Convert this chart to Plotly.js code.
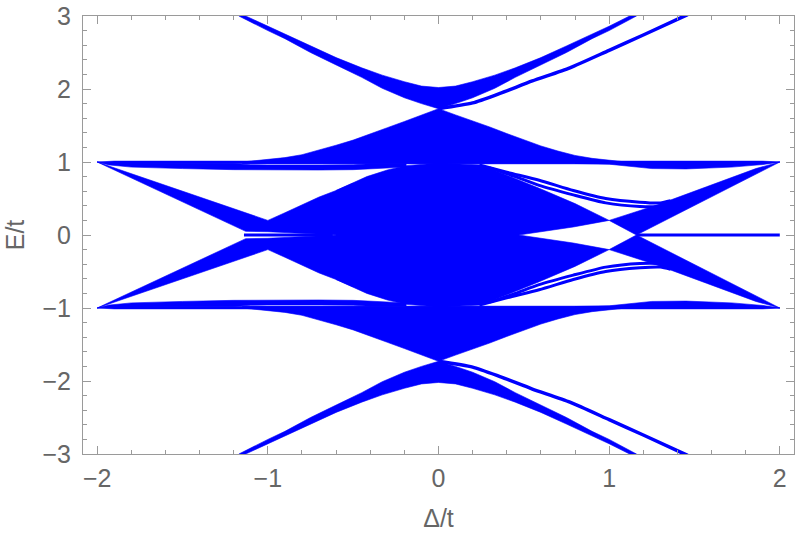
<!DOCTYPE html>
<html>
<head>
<meta charset="utf-8">
<script src="https://cdn.plot.ly/plotly-3.0.1.min.js"></script>
<style>html,body{margin:0;padding:0;background:#fff;}#chart{width:797px;height:538px;}</style>
</head>
<body>
<div id="chart"></div>
<script>
// ---------- data (upper half, E >= 0); the spectrum is symmetric in E ----------
// top band (near E = 2)
const topUpperD = [-1.13, -1.0, -0.9, -0.75, -0.6, -0.45, -0.33, -0.2, -0.1, 0, 0.1, 0.2, 0.33, 0.45, 0.6, 0.75, 0.9, 1.0, 1.12];
const topUpperE = [3.0, 2.86, 2.75, 2.59, 2.43, 2.29, 2.19, 2.1, 2.04, 2.02, 2.04, 2.1, 2.19, 2.29, 2.43, 2.59, 2.75, 2.86, 3.0];
const topLowerD = [-1.17, -1.0, -0.9, -0.75, -0.6, -0.45, -0.33, -0.2, -0.1, 0, 0.1, 0.2, 0.33, 0.45, 0.6, 0.75, 0.9, 1.0, 1.16];
const topLowerE = [3.0, 2.8, 2.69, 2.5, 2.33, 2.16, 2.01, 1.88, 1.8, 1.73, 1.8, 1.88, 2.01, 2.16, 2.33, 2.5, 2.69, 2.8, 3.0];
// thin branch leaving (0, 1.73) to the right
const t1D = [0, 0.2, 0.36, 0.55, 0.77, 1.0, 1.2, 1.46];
const t1E = [1.73, 1.81, 1.94, 2.11, 2.29, 2.53, 2.74, 3.02];
// upper central lobe (between E = 1 and E = 1.73)
const lobeTopD = [-1.15, -1.0, -0.9, -0.8, -0.7, -0.6, -0.5, -0.4, -0.3, -0.2, -0.1, 0, 0.1, 0.2, 0.3, 0.4, 0.5, 0.6, 0.7, 0.8, 0.9, 1.0, 1.1];
const lobeTopE = [1.0, 1.03, 1.06, 1.1, 1.16, 1.23, 1.3, 1.38, 1.47, 1.555, 1.64, 1.73, 1.645, 1.565, 1.48, 1.39, 1.3, 1.22, 1.15, 1.09, 1.05, 1.02, 1.0];
const lobeBotD = [-1.15, 1.1];
const lobeBotE = [0.98, 0.98];
// flat band at E = 1 : thin top strip over the whole range
const flatStripD = [-2.0, -1.9, 1.9, 2.0];
const flatStripHi = [1.0, 1.012, 1.012, 1.0];
const flatStripLo = [1.0, 0.975, 0.975, 1.0];
// flat band, lower part on the left (with the thin gap above it)
const flatLeftD = [-2.0, -1.93, -1.8, -1.5, -1.2, -1.1, -1.0, -0.7, -0.5, -0.4, -0.19];
const flatLeftHi = [1.0, 0.99, 0.985, 0.98, 0.978, 0.962, 0.958, 0.958, 0.962, 0.975, 0.975];
const flatLeftLo = [1.0, 0.96, 0.93, 0.91, 0.895, 0.892, 0.89, 0.89, 0.895, 0.9, 0.93];
// flat band, lower part on the right
const flatRightD = [0.8, 1.0, 1.25, 1.45, 1.72, 1.9, 2.0];
const flatRightHi = [0.99, 0.99, 0.99, 0.99, 0.99, 0.99, 1.0];
const flatRightLo = [0.98, 0.97, 0.91, 0.905, 0.93, 0.965, 1.0];
// band descending from (-2, 1) and the left flank of the central core
const leftTopD = [-2.0, -1.75, -1.5, -1.25, -1.0, -0.9, -0.8, -0.7, -0.6, -0.5];
const leftTopE = [1.0, 0.8, 0.6, 0.4, 0.2, 0.305, 0.41, 0.52, 0.61, 0.71];
const leftBotD = [-2.0, -1.5, -1.13, -1.0, -0.85, -0.7, -0.6, -0.5];
const leftBotE = [1.0, 0.45, 0.05, 0.045, 0.035, 0.015, 0.0, -0.01];
// central core (E from 0 up to about 1)
const coreTopD = [-0.6, -0.5, -0.42, -0.3, -0.19, 0, 0.25, 0.42, 0.59, 0.8, 1.0];
const coreTopE = [0.61, 0.71, 0.8, 0.89, 0.95, 0.985, 0.96, 0.8, 0.64, 0.43, 0.2];
const coreBotD = [-0.6, 0.0, 0.47, 0.62, 0.79, 1.0];
const coreBotE = [-0.01, -0.01, 0.0, 0.05, 0.11, 0.2];
// band rising from (1.16, 0) to (2, 1)
const riseTopD = [1.0, 1.28, 1.57, 1.86, 2.0];
const riseTopE = [0.2, 0.41, 0.66, 0.91, 1.0];
const riseBotD = [1.0, 1.16, 1.5, 1.8, 2.0];
const riseBotE = [0.2, 0.0, 0.4, 0.76, 1.0];
// two thin in-gap branches on the right
const t2D = [0.24, 0.4, 0.59, 0.79, 0.98, 1.18, 1.3, 1.36];
const t2E = [0.96, 0.86, 0.75, 0.61, 0.5, 0.45, 0.44, 0.47];
const t3D = [0.3, 0.45, 0.59, 0.79, 0.98, 1.18, 1.28, 1.34];
const t3E = [0.92, 0.8, 0.68, 0.55, 0.44, 0.39, 0.39, 0.42];
// zero-energy lines
const zeroLeftD = [-1.14, -0.62];
const zeroRightD = [1.16, 2.0];
const zeroE = [0, 0];

// tick labels
const xTicks = [-2, -1, 0, 1, 2];
const yTicks = [-3, -2, -1, 0, 1, 2, 3];

// ---------- build traces ----------
const BLUE = '#0000ff';
const neg = a => a.map(v => -v);
const traces = [];
function region(uD, uE, lD, lE) {
  const x = uD.concat(lD.slice().reverse());
  const y = uE.concat(lE.slice().reverse());
  traces.push({x: x, y: y, mode: 'lines', fill: 'toself', fillcolor: BLUE,
    line: {color: BLUE, width: 0.6}, hoverinfo: 'skip', showlegend: false});
  traces.push({x: x, y: neg(y), mode: 'lines', fill: 'toself', fillcolor: BLUE,
    line: {color: BLUE, width: 0.6}, hoverinfo: 'skip', showlegend: false});
}
function curve(d, e, w) {
  traces.push({x: d, y: e, mode: 'lines', line: {color: BLUE, width: w, shape: 'spline', smoothing: 0.6},
    hoverinfo: 'skip', showlegend: false});
  traces.push({x: d, y: neg(e), mode: 'lines', line: {color: BLUE, width: w, shape: 'spline', smoothing: 0.6},
    hoverinfo: 'skip', showlegend: false});
}
region(topUpperD, topUpperE, topLowerD, topLowerE);
region(lobeTopD, lobeTopE, lobeBotD, lobeBotE);
region(flatStripD, flatStripHi, flatStripD, flatStripLo);
region(flatLeftD, flatLeftHi, flatLeftD, flatLeftLo);
region(flatRightD, flatRightHi, flatRightD, flatRightLo);
region(leftTopD, leftTopE, leftBotD, leftBotE);
region(coreTopD, coreTopE, coreBotD, coreBotE);
region(riseTopD, riseTopE, riseBotD, riseBotE);
curve(t1D, t1E, 3.5);
curve(t2D, t2E, 3);
curve(t3D, t3E, 3);
traces.push({x: zeroLeftD, y: zeroE, mode: 'lines', line: {color: BLUE, width: 3}, hoverinfo: 'skip', showlegend: false});
traces.push({x: zeroRightD, y: zeroE, mode: 'lines', line: {color: BLUE, width: 3}, hoverinfo: 'skip', showlegend: false});

const FRAME = '#9a9a9a';
const TXT = '#666666';
const FONT = 'Arial, Liberation Sans, sans-serif';
const axisCommon = {
  showgrid: false, zeroline: false, showline: true, linecolor: FRAME, linewidth: 1,
  mirror: 'ticks', ticks: 'inside', ticklen: 8, tickwidth: 1, tickcolor: FRAME,
  tickfont: {family: FONT, size: 25, color: TXT},
  minor: {ticks: 'inside', ticklen: 4, tickwidth: 1, tickcolor: FRAME, dtick: 0.2, tick0: 0, showgrid: false}
};
const layout = {
  width: 797, height: 538,
  margin: {l: 83, r: 3, t: 16, b: 84},
  paper_bgcolor: '#ffffff', plot_bgcolor: '#ffffff',
  showlegend: false,
  xaxis: Object.assign({}, axisCommon, {
    range: [-2.0833, 2.0833], tickmode: 'array', tickvals: xTicks,
    ticklabelstandoff: 2,
    title: {text: 'Δ/t', font: {family: FONT, size: 25, color: TXT}, standoff: 18}
  }),
  yaxis: Object.assign({}, axisCommon, {
    range: [-3, 3], tickmode: 'array', tickvals: yTicks,
    ticklabelstandoff: 6,
    title: {text: 'E/t', font: {family: FONT, size: 25, color: TXT}, standoff: 10}
  })
};
Plotly.newPlot('chart', traces, layout, {staticPlot: true, displayModeBar: false});
</script>
</body>
</html>
